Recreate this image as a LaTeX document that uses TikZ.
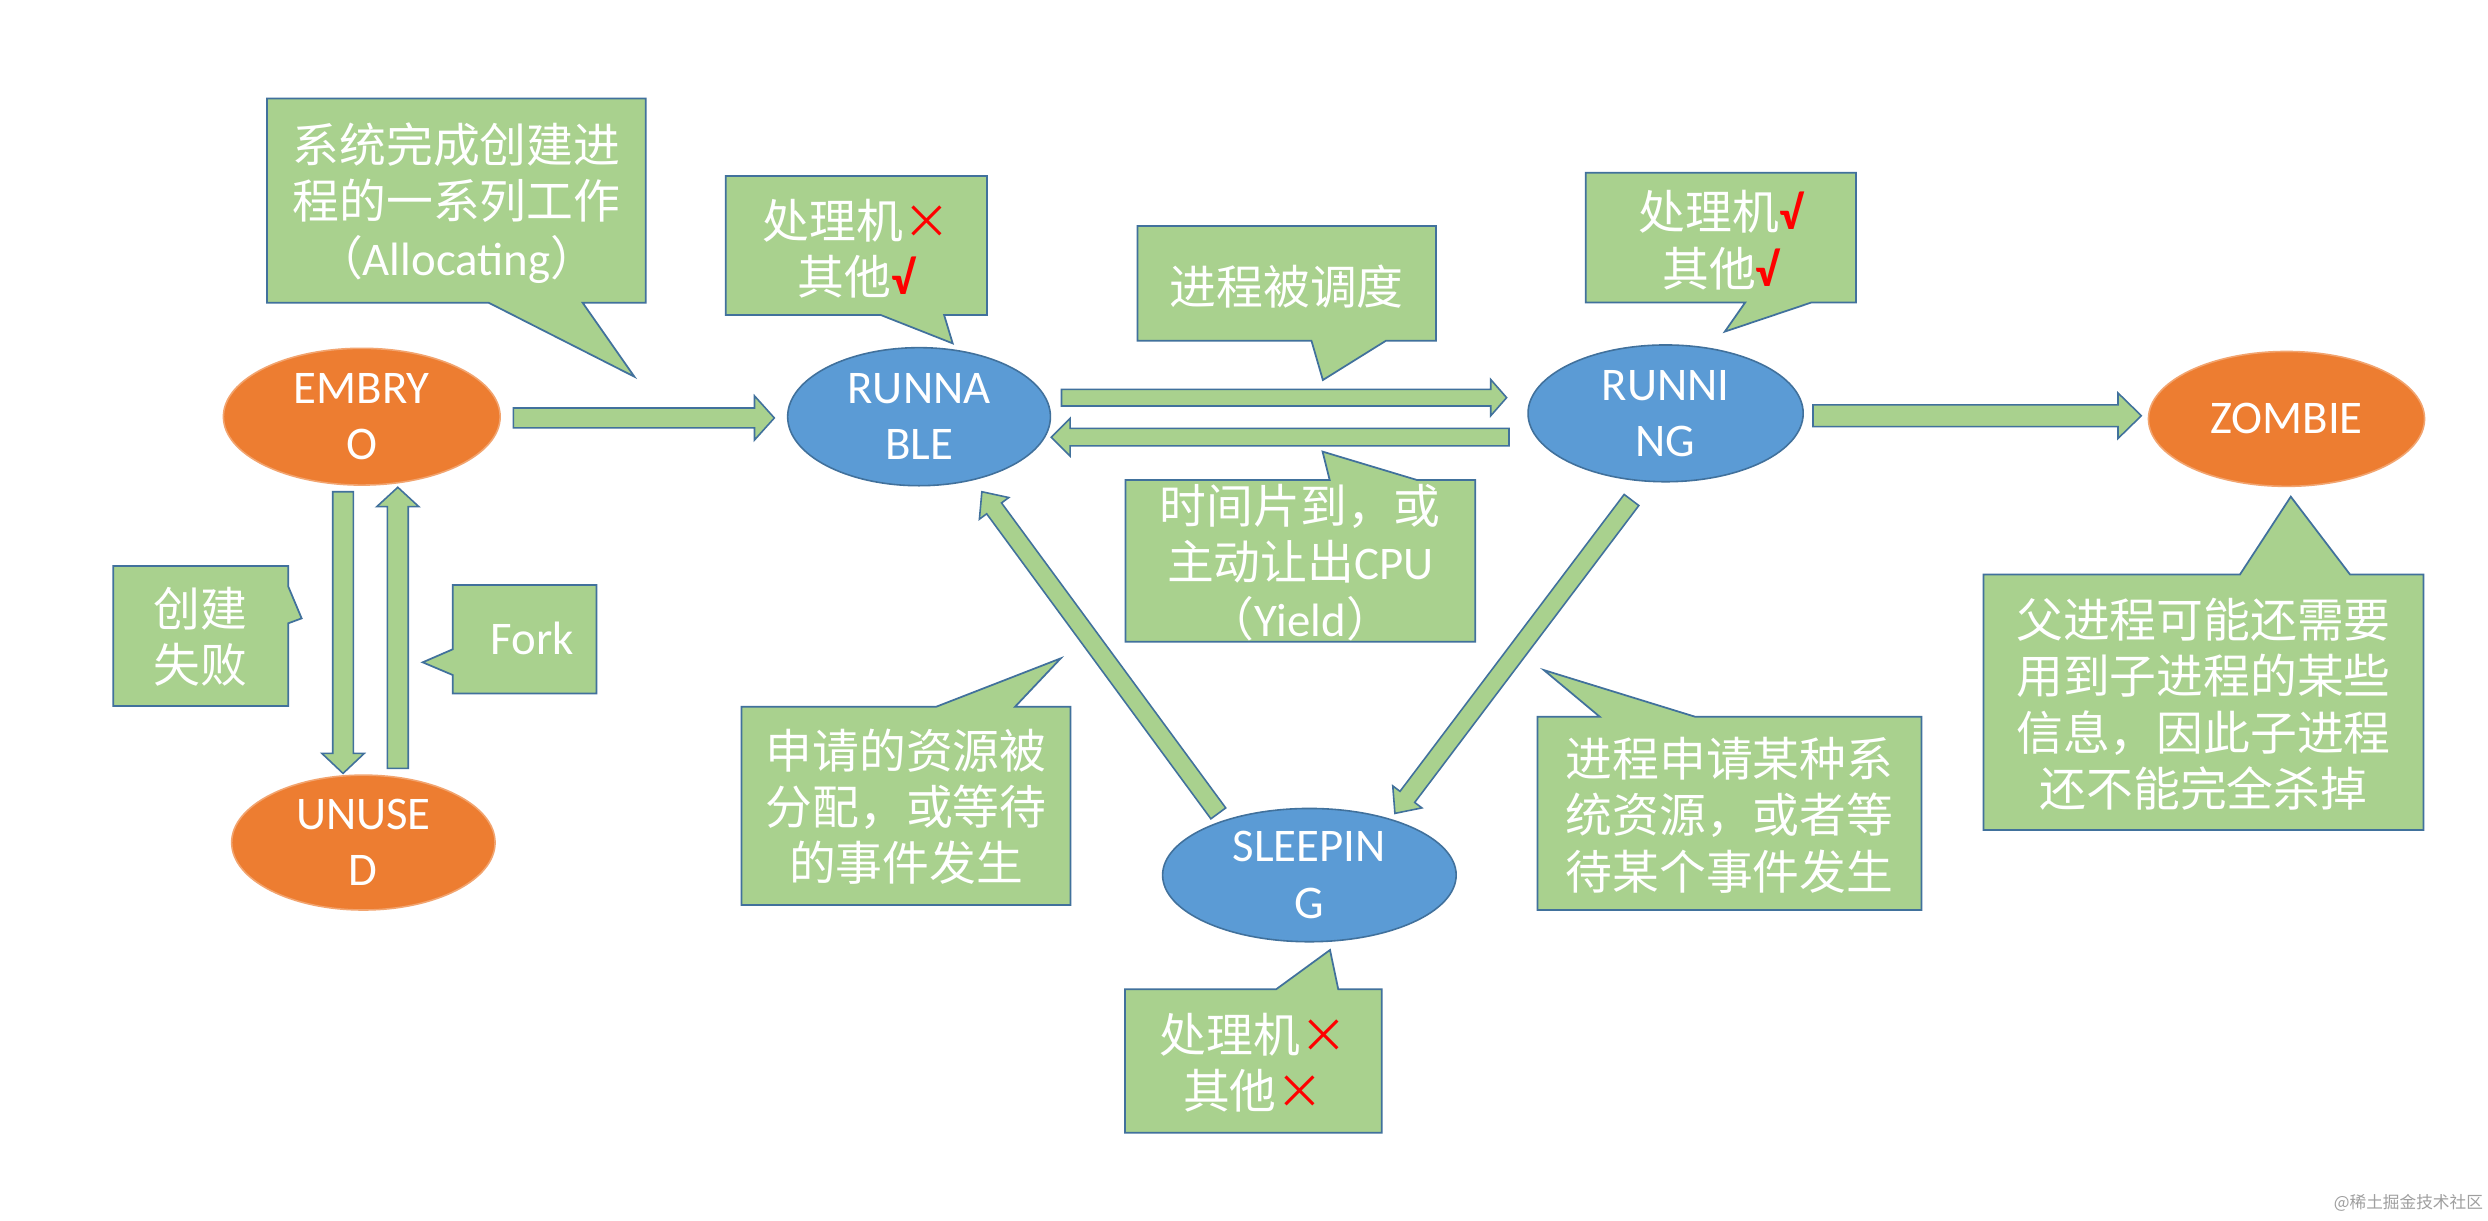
\documentclass[tikz,border=0pt]{standalone}
\usepackage{fontspec}
\setmainfont{Carlito}
\newfontfamily\cjk{Noto Sans CJK SC}
\usepackage{tikz}
\usetikzlibrary{positioning}
\usetikzlibrary{shapes.geometric,calc,backgrounds}
\definecolor{notegreen}{HTML}{A9D18E}
\definecolor{lineblue}{HTML}{41719C}
\definecolor{stateblue}{HTML}{5B9BD5}
\definecolor{stateorange}{HTML}{ED7D31}
\tikzstyle{state}=[ellipse,inner sep=0pt,align=center,text=white,font=\fontsize{29.5}{35.5}\selectfont]
\tikzstyle{blue state}=[state,fill=stateblue,draw=lineblue,line width=1pt]
\tikzstyle{orange state}=[state,fill=stateorange,draw=stateorange!70!white,line width=1pt]
\tikzstyle{note}=[fill=notegreen,draw=lineblue,line width=1.1pt,line join=miter]
\tikzstyle{note text}=[align=center,text=white,inner sep=0pt,font=\cjk\fontsize{29.5}{35.5}\selectfont]
\tikzstyle{fat arrow}=[fill=notegreen,draw=lineblue,line width=1pt,line join=miter]
\newcommand{\statenode}[3][]{
  \node [state, #1] (#2) {#3}
}
\newcommand{\okmark}{{\color{red}\rmfamily\bfseries √}}
\newcommand{\nomark}{{\color{red}×}}
% block arrow: from, to, shaft half width, head half width, head length
\newcommand{\fatarrow}[5]{
  \coordinate (fathead) at ($(#2)!#5!(#1)$);
  \draw[fat arrow] ($(#1)!#3!90:(#2)$) -- ($(fathead)!#3!-90:(#1)$) -- ($(fathead)!#4!-90:(#1)$) -- (#2)
    -- ($(fathead)!#4!90:(#1)$) -- ($(fathead)!#3!90:(#1)$) -- ($(#1)!#3!-90:(#2)$) -- cycle;
}

\begin{document}
\begin{tikzpicture}[x=1pt,y=-1pt,node distance=1cm]
        \fill[white] (0,0) rectangle (1568,769);
        \useasboundingbox (0,0) rectangle (1568,769);

        % states
        \statenode[orange state, minimum width=174.4pt, minimum height=86.2pt, at={(228,262.6)}]{embryo}{EMBRY\\O};
        \statenode[blue state, minimum width=165.6pt, minimum height=87pt, right=180.2pt of embryo]{runnable}{RUNNA\\BLE};
        \statenode[blue state, minimum width=173.4pt, minimum height=86.2pt, right=300pt of runnable, yshift=2.1pt]{running}{RUNNI\\NG};
        \statenode[orange state, minimum width=174pt, minimum height=85pt, right=216.6pt of running, yshift=-3.5pt]{zombie}{ZOMBIE};
        \statenode[orange state, minimum width=166pt, minimum height=85pt, below=181.8pt of embryo, xshift=1pt]{unused}{UNUSE\\D};
        \statenode[blue state, minimum width=185pt, minimum height=84pt, at={(825.2,551.5)}]{sleeping}{SLEEPIN\\G};

        % callouts
        \draw[note] (168.3,62) -- (407,62) -- (407,190.8) -- (367.2,190.8) -- (399.8,237.4) -- (308,190.8) -- (168.3,190.8) -- cycle;
        \draw[note] (457.4,110.9) -- (622,110.9) -- (622,198.5) -- (595,198.5) -- (600.4,216.4) -- (555,198.5) -- (457.4,198.5) -- cycle;
        \draw[note] (716.8,142.4) -- (905,142.4) -- (905,214.7) -- (873.5,214.7) -- (833.7,239.5) -- (826.5,214.7) -- (716.8,214.7) -- cycle;
        \draw[note] (709.3,302.5) -- (838,302.5) -- (833.5,284.6) -- (893,302.5) -- (929.8,302.5) -- (929.8,404.4) -- (709.3,404.4) -- cycle;
        \draw[note] (999.3,108.8) -- (1169.7,108.8) -- (1169.7,190.7) -- (1141.4,190.7) -- (1087,209) -- (1099.8,190.7) -- (999.3,190.7) -- cycle;
        \draw[note] (1250,362) -- (1411.7,362) -- (1443.7,313) -- (1481,362) -- (1527.3,362) -- (1527.3,523) -- (1250,523) -- cycle;
        \draw[note] (71.4,356.7) -- (181.7,356.7) -- (181.7,369.7) -- (190.1,389.7) -- (181.7,392.8) -- (181.7,445) -- (71.4,445) -- cycle;
        \draw[note] (285.3,368.7) -- (376,368.7) -- (376,437) -- (285.3,437) -- (285.3,425.4) -- (266.4,417.4) -- (285.3,409.2) -- cycle;
        \draw[note] (467.3,445.4) -- (590,445.4) -- (668.5,414.9) -- (639.7,445.4) -- (674.7,445.4) -- (674.7,570.4) -- (467.3,570.4) -- cycle;
        \draw[note] (969,451.7) -- (1008.2,451.7) -- (973,422.3) -- (1068.3,451.7) -- (1210.9,451.7) -- (1210.9,573.5) -- (969,573.5) -- cycle;
        \draw[note] (709,623.5) -- (804.2,623.5) -- (838.2,598.7) -- (843.4,623.5) -- (870.8,623.5) -- (870.8,713.8) -- (709,713.8) -- cycle;

        \node[note text] (allocnote) at (287.7,128) {系统完成创建进\\程的一系列工作\\（{\rmfamily Allocating}）};
        \node[note text] (runnablenote) at (539.7,156.5) {处理机\nomark\\其他\okmark};
        \node[note text] (schednote) at (810.9,180.7) {进程被调度};
        \node[note text] (yieldnote) at (819.5,354.5) {时间片到，或\\主动让出{\rmfamily CPU}\\（{\rmfamily Yield}）};
        \node[note text] (runningnote) at (1084.5,151.3) {处理机\okmark\\其他\okmark};
        \node[note text] (zombienote) at (1388.7,443.8) {父进程可能还需要\\用到子进程的某些\\信息，因此子进程\\还不能完全杀掉};
        \node[note text] (failnote) at (126.5,401.2) {创建\\失败};
        \node[note text] (forknote) at (335.5,402.3) {\rmfamily Fork};
        \node[note text] (grantnote) at (571,508.4) {申请的资源被\\分配，或等待\\的事件发生};
        \node[note text] (requestnote) at (1090,513.8) {进程申请某种系\\统资源，或者等\\待某个事件发生};
        \node[note text] (sleepnote) at (789.9,669.7) {处理机\nomark\\其他\nomark};

        % transitions
        \coordinate (embryo-out) at (323.5,263.4);
        \coordinate (runnable-in) at (488,263.4);
        \coordinate (runnable-out) at (669,250.6);
        \coordinate (running-in) at (949.5,250.6);
        \coordinate (running-back) at (951,275.5);
        \coordinate (runnable-back) at (662.5,275.5);
        \coordinate (running-out) at (1142.6,262);
        \coordinate (zombie-in) at (1349.5,262);
        \coordinate (embryo-down) at (216.2,309.9);
        \coordinate (unused-in) at (216.2,487.4);
        \coordinate (unused-up) at (250.7,484.2);
        \coordinate (embryo-in) at (250.7,307.1);
        \coordinate (sleeping-out) at (767.8,512.6);
        \coordinate (runnable-wake) at (618.8,309.9);
        \coordinate (running-sleep) at (1028.2,315.1);
        \coordinate (sleeping-in) at (879.1,512.6);

        \fatarrow{embryo-out}{runnable-in}{6.3pt}{13.9pt}{12.5pt}
        \fatarrow{runnable-out}{running-in}{5.25pt}{11.4pt}{10pt}
        \fatarrow{running-back}{runnable-back}{5.5pt}{11.9pt}{11.9pt}
        \fatarrow{running-out}{zombie-in}{6.85pt}{14.35pt}{14.7pt}
        \fatarrow{embryo-down}{unused-in}{6.5pt}{13.35pt}{12.6pt}
        \fatarrow{unused-up}{embryo-in}{6.6pt}{13.25pt}{12.2pt}
        \fatarrow{sleeping-out}{runnable-wake}{5.8pt}{11.5pt}{13pt}
        \fatarrow{running-sleep}{sleeping-in}{5.8pt}{11.5pt}{13pt}

        \node[anchor=east, text=gray!75, inner sep=0pt, font=\cjk\fontsize{10.5}{12}\selectfont] (watermark) at (1565,758) {@稀土掘金技术社区};
\end{tikzpicture}
\end{document}
